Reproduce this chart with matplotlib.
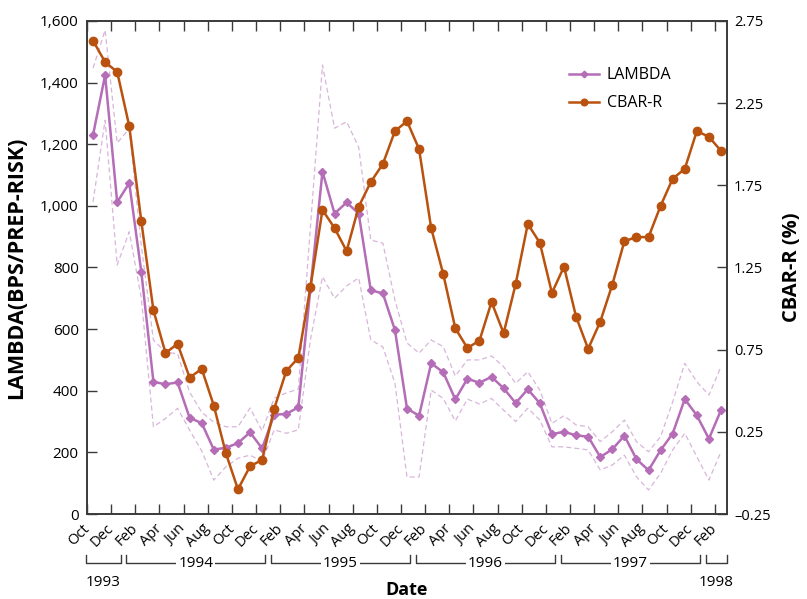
import numpy as np
import pandas as pd
import matplotlib
matplotlib.use("Agg")
import matplotlib.pyplot as plt
import matplotlib.transforms as mtransforms
from matplotlib.ticker import FuncFormatter

plt.rcParams['font.family'] = ['Open Sans', 'DejaVu Sans']

# --------------------------
# DATA (monthly, Oct 1993 - Feb 1998)
# --------------------------
start_month = "1993-10"

lambda_vals = [1230, 1424, 1012,
               1074, 785, 429, 421, 427, 312, 295, 209, 215, 230, 265, 213,
               322, 325, 346, 730, 1111, 975, 1011, 975, 726, 716, 597, 342,
               319, 489, 460, 372, 439, 426, 445, 408, 360, 405, 359, 259,
               267, 255, 251, 185, 210, 254, 178, 142, 207, 261, 373, 320,
               244, 337]

lambda_upper = [1447, 1570, 1204,
                1250, 870, 565, 525, 520, 395, 330, 298, 283, 283, 344, 270,
                376, 393, 405, 930, 1457, 1252, 1273, 1190, 889, 879, 694, 555,
                522, 565, 543, 448, 500, 500, 513, 478, 424, 462, 402, 294,
                319, 289, 283, 235, 267, 305, 235, 202, 251, 364, 489, 429,
                386, 478]

lambda_lower = [1013, 1278, 808,
                916, 700, 283, 310, 343, 272, 205, 110, 153, 181, 191, 170,
                273, 262, 273, 565, 770, 700, 740, 766, 565, 542, 425, 120,
                120, 402, 375, 302, 373, 357, 375, 337, 300, 343, 305, 218,
                218, 213, 208, 143, 159, 191, 121, 78, 132, 208, 262, 186,
                110, 202]

cbar_vals = [2.63, 2.50, 2.44,
             2.11, 1.53, 0.99, 0.73, 0.785, 0.58, 0.633, 0.41, 0.12, -0.10, 0.04, 0.08,
             0.39, 0.62, 0.70, 1.13, 1.60, 1.49, 1.35, 1.62, 1.77, 1.88, 2.08, 2.14,
             1.97, 1.49, 1.21, 0.88, 0.76, 0.805, 1.04, 0.85, 1.15, 1.515, 1.40, 1.095,
             1.255, 0.95, 0.755, 0.92, 1.145, 1.41, 1.435, 1.435, 1.625, 1.79, 1.85, 2.08,
             2.045, 1.96]

left_ticks = [0, 200, 400, 600, 800, 1000, 1200, 1400, 1600]
right_ticks = [-0.25, 0.25, 0.75, 1.25, 1.75, 2.25, 2.75]

purple = "#b46db6"
orange = "#b9520f"
band = "#d8b6da"
axis_col = "#3a3a3a"

dates = pd.date_range(start_month, periods=len(lambda_vals), freq="MS")
x = np.arange(len(dates))

# --------------------------
# FIGURE
# --------------------------
fig = plt.figure(figsize=(8.07, 5.99), dpi=100)
ax = fig.add_axes([0.1078, 0.1419, 0.7931, 0.8231])
ax2 = ax.twinx()

ax.plot(x, lambda_upper, color=band, lw=0.9, ls=(0, (4, 2.5)))
ax.plot(x, lambda_lower, color=band, lw=0.9, ls=(0, (4, 2.5)))
l1, = ax.plot(x, lambda_vals, color=purple, lw=1.8, marker="D", ms=4.2,
              label="LAMBDA")
l2, = ax2.plot(x, cbar_vals, color=orange, lw=1.8, marker="o", ms=6,
               label="CBAR-R")

ax.set_xlim(-0.5, len(x) - 0.5)
ax.set_ylim(0, 1600)
ax2.set_ylim(-0.25, 2.75)

ax.set_yticks(left_ticks)
ax.yaxis.set_major_formatter(FuncFormatter(lambda v, p: f"{v:,.0f}"))
ax2.set_yticks(right_ticks)
ax2.set_yticklabels([f"{v:.2f}".replace("-", "\u2013") for v in right_ticks])

# ticks every two months, at the month boundaries
ax.set_xticks(x[::2] - 0.5)
ax.set_xticklabels(dates[::2].strftime("%b"), rotation=45, ha="right",
                   va="center", rotation_mode="anchor", fontsize=10.5)

ax.tick_params(axis="x", direction="in", top=True, length=7, width=1,
               color=axis_col, pad=9)
ax.tick_params(axis="y", direction="in", length=7, width=1, color=axis_col,
               labelsize=11, pad=6)
ax2.tick_params(axis="y", direction="in", length=7, width=1, color=axis_col,
                labelsize=10.5, pad=5)
for a in (ax, ax2):
    for s in a.spines.values():
        s.set_color(axis_col)
        s.set_linewidth(1.2)

ax.set_ylabel("LAMBDA(BPS/PREP-RISK)", fontsize=15.5, fontweight="bold")
ax.yaxis.set_label_coords(-0.094, 0.5)
ax2.set_ylabel("CBAR-R (%)", fontsize=14.5, fontweight="bold")
ax2.yaxis.set_label_coords(1.086, 0.5)

ax.text(0.5, -0.154, "Date", transform=ax.transAxes, ha="center",
        va="center", fontsize=13, fontweight="bold")

# --------------------------
# YEAR BRACKETS
# --------------------------
trans = mtransforms.blended_transform_factory(ax.transData, ax.transAxes)
jan_idx = list(x[dates.month == 1])
bounds = [-0.5] + [i - 0.5 for i in jan_idx] + [len(x) - 0.5]
years = [str(y) for y in sorted(set(dates.year))]
y_line, y_tick = -0.0994, -0.0832
for k, yr in enumerate(years):
    b0, b1 = bounds[k], bounds[k + 1]
    left = b0 + 0.22 if k > 0 else b0 - 0.1
    right = b1 - 0.22 if k < len(years) - 1 else b1
    ax.plot([left, left, right, right], [y_tick, y_line, y_line, y_tick],
            color=axis_col, lw=1, transform=trans, clip_on=False)
    mid = (left + right) / 2
    if b1 - b0 > 4:
        ax.text(mid, y_line, yr, transform=trans, ha="center", va="center",
                fontsize=11, bbox=dict(facecolor="white", edgecolor="none",
                                       pad=1.5))
    else:
        ax.text(mid, -0.138, yr, transform=trans, ha="center", va="center",
                fontsize=11)

ax2.legend(handles=[l1, l2], loc="upper left", bbox_to_anchor=(0.73, 0.935),
           frameon=False, fontsize=11.5, handlelength=1.9, labelspacing=0.75,
           handletextpad=0.5, markerscale=0.8)

fig.savefig("out.png", dpi=100)
